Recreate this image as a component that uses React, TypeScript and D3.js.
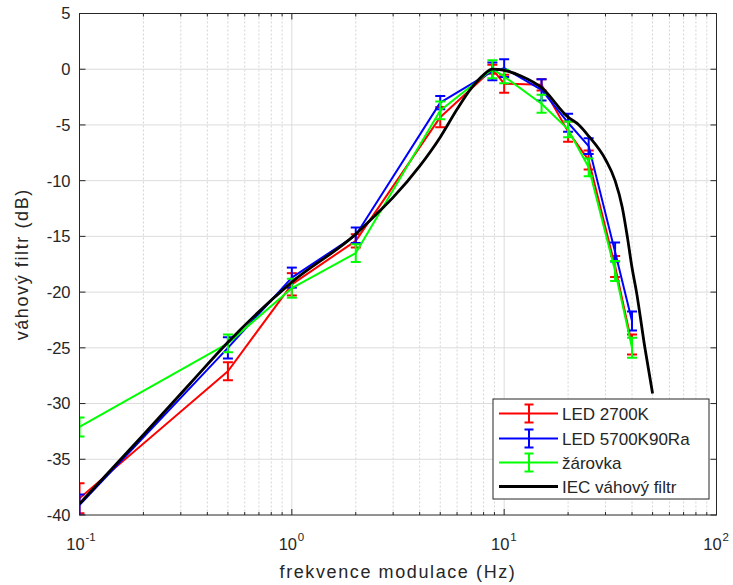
import React from "react";
import * as d3 from "d3";

// ---------- data ----------
const freqs = [0.1, 0.5, 1, 2, 5, 8.8, 10, 15, 20, 25, 33.3, 40];
const led2700 = [-38.5, -27.1, -19.3, -15.4, -4.3, 0, -1.3, -1.4, -5.6, -8.15, -17.7, -24.7];
const led2700Err = [1.35, 0.8, 1.0, 0.6, 0.9, 0.4, 0.8, 0.5, 0.9, 0.85, 0.95, 0.9];
const led5700 = [-39.1, -25.0, -18.7, -14.9, -3.0, -0.2, 0.1, -1.85, -4.8, -6.9, -16.4, -22.6];
const led5700Err = [0.95, 0.95, 0.9, 0.7, 0.6, 0.8, 0.8, 0.95, 0.8, 0.7, 0.85, 0.85];
const zarovka = [-32.1, -24.6, -19.65, -16.5, -3.7, 0, -0.65, -3.1, -5.4, -8.8, -18.1, -25.0];
const zarovkaErr = [0.85, 0.8, 0.85, 0.8, 0.8, 0.8, 0.6, 0.8, 0.7, 0.8, 0.9, 0.9];

const iecFreqs = [0.1, 0.2, 0.332, 0.5, 1, 2, 2.6, 3, 4, 5, 6, 7, 8, 8.8, 10, 12, 15, 20, 22.5, 25, 30, 33.3, 36, 38, 40, 42, 46, 50];
const iecValues = [-39.0, -32.8, -28.2, -24.5, -19.1, -14.8, -12.7, -11.5, -8.7, -6.1, -3.6, -1.7, -0.5, 0, -0.1, -0.6, -1.65, -4.3, -5.0, -6.0, -8.1, -10.0, -12.4, -15.0, -17.8, -20.0, -25.0, -29.1];

const yTicks = [5, 0, -5, -10, -15, -20, -25, -30, -35, -40];
const xDecades = [0.1, 1, 10, 100];
const xDecadeExp = ["-1", "0", "1", "2"];

const seriesNames = ["LED 2700K", "LED 5700K90Ra", "žárovka", "IEC váhový filtr"];
const seriesColors = ["#ff0000", "#0000ff", "#00ff00", "#000000"];

// ---------- layout ----------
const W = 733;
const H = 585;
const L = 79.5, R = 716.5, T = 13.5, B = 515;
const FONT = "'Liberation Sans', Arial, Helvetica, sans-serif";
const TXT = "#262626";

export default function App() {
  const x = d3.scaleLog().domain([0.1, 100]).range([L, R]);
  const y = d3.scaleLinear().domain([-40, 5]).range([B, T]);

  const minor: number[] = [];
  for (const d of [0.1, 1, 10]) for (let k = 2; k <= 9; k++) minor.push(d * k);

  const line = d3.line<[number, number]>().x(d => x(d[0])).y(d => y(d[1]));
  const iecLine = d3
    .line<[number, number]>()
    .x(d => x(d[0]))
    .y(d => y(d[1]))
    .curve(d3.curveMonotoneX);

  const measured = [
    { v: led2700, e: led2700Err, c: seriesColors[0] },
    { v: led5700, e: led5700Err, c: seriesColors[1] },
    { v: zarovka, e: zarovkaErr, c: seriesColors[2] },
  ];

  const cap = 5;
  const legX = 493, legY = 399, legW = 216, legH = 100;
  const legRows = [413.5, 438.5, 462.5, 486.5];

  return (
    <svg width={W} height={H} style={{ display: "block", position: "absolute", left: 0, top: 0, background: "#fff" }}>
      <rect x={0} y={0} width={W} height={H} fill="#fff" />
      <defs>
        <clipPath id="plotclip">
          <rect x={L} y={T} width={R - L} height={B - T} />
        </clipPath>
      </defs>
      {/* grid */}
      {minor.map((m, i) => (
        <line key={"mg" + i} x1={x(m)} x2={x(m)} y1={T} y2={B} stroke="#d4d4d4" strokeWidth={1} strokeDasharray="2,2" />
      ))}
      {xDecades.slice(1, 3).map((d, i) => (
        <line key={"xg" + i} x1={x(d)} x2={x(d)} y1={T} y2={B} stroke="#dcdcdc" strokeWidth={1} />
      ))}
      {yTicks.slice(1, -1).map((t, i) => (
        <line key={"yg" + i} x1={L} x2={R} y1={y(t)} y2={y(t)} stroke="#dcdcdc" strokeWidth={1} />
      ))}

      {/* data */}
      <g clipPath="url(#plotclip)">
        {measured.map((s, si) => (
          <g key={"s" + si}>
            <path
              d={line(freqs.map((f, i) => [f, s.v[i]] as [number, number])) || ""}
              fill="none"
              stroke={s.c}
              strokeWidth={2}
              strokeLinejoin="round"
            />
            {freqs.map((f, i) => {
              const cx = x(f);
              const y1 = y(s.v[i] + s.e[i]);
              const y2 = y(s.v[i] - s.e[i]);
              return (
                <g key={i} stroke={s.c} strokeWidth={2}>
                  <line x1={cx} x2={cx} y1={y1} y2={y2} />
                  <line x1={cx - cap} x2={cx + cap} y1={y1} y2={y1} />
                  <line x1={cx - cap} x2={cx + cap} y1={y2} y2={y2} />
                </g>
              );
            })}
          </g>
        ))}
        <path
          d={iecLine(iecFreqs.map((f, i) => [f, iecValues[i]] as [number, number])) || ""}
          fill="none"
          stroke={seriesColors[3]}
          strokeWidth={2.8}
          strokeLinejoin="round"
        />
      </g>

      {/* axes box */}
      <rect x={L} y={T} width={R - L} height={B - T} fill="none" stroke={TXT} strokeWidth={1} />
      {/* y ticks */}
      {yTicks.map((t, i) => (
        <g key={"yt" + i}>
          <line x1={L} x2={L + 6} y1={y(t)} y2={y(t)} stroke={TXT} />
          <line x1={R} x2={R - 6} y1={y(t)} y2={y(t)} stroke={TXT} />
          <text x={L - 9} y={y(t)} dy="0.36em" textAnchor="end" fontFamily={FONT} fontSize={16.5} fill={TXT}>
            {t < 0 ? "-" + Math.abs(t) : String(t)}
          </text>
        </g>
      ))}
      {/* x ticks */}
      {xDecades.map((d, i) => (
        <g key={"xt" + i}>
          <line x1={x(d)} x2={x(d)} y1={B} y2={B - 6} stroke={TXT} />
          <line x1={x(d)} x2={x(d)} y1={T} y2={T + 6} stroke={TXT} />
          <text x={x(d) - 4} y={550} textAnchor="middle" fontFamily={FONT} fontSize={16.5} fill={TXT}>
            10
          </text>
          <text x={x(d) + 6} y={541} textAnchor="start" fontFamily={FONT} fontSize={11.5} fill={TXT}>
            {xDecadeExp[i]}
          </text>
        </g>
      ))}
      {minor.map((m, i) => (
        <g key={"mt" + i}>
          <line x1={x(m)} x2={x(m)} y1={B} y2={B - 3} stroke={TXT} />
          <line x1={x(m)} x2={x(m)} y1={T} y2={T + 3} stroke={TXT} />
        </g>
      ))}

      {/* axis labels */}
      <text x={(L + R) / 2} y={578} textAnchor="middle" fontFamily={FONT} fontSize={18} fill={TXT} letterSpacing={1.6}>
        frekvence modulace (Hz)
      </text>
      <text
        transform={`translate(28, ${(T + B) / 2}) rotate(-90)`}
        textAnchor="middle"
        fontFamily={FONT}
        fontSize={18}
        fill={TXT}
        letterSpacing={1.6}
      >
        váhový filtr (dB)
      </text>

      {/* legend */}
      <rect x={legX} y={legY} width={legW} height={legH} fill="#fff" stroke={TXT} strokeWidth={1} />
      {seriesNames.map((n, i) => {
        const ry = legRows[i];
        return (
          <g key={"lg" + i}>
            <line x1={499} x2={558} y1={ry} y2={ry} stroke={seriesColors[i]} strokeWidth={i === 3 ? 2.8 : 2} />
            {i < 3 && (
              <g stroke={seriesColors[i]} strokeWidth={2}>
                <line x1={529} x2={529} y1={ry - 9} y2={ry + 9} />
                <line x1={524.5} x2={533.5} y1={ry - 9} y2={ry - 9} />
                <line x1={524.5} x2={533.5} y1={ry + 9} y2={ry + 9} />
              </g>
            )}
            <text x={562} y={ry} dy="0.36em" fontFamily={FONT} fontSize={17} fill={TXT}>
              {n}
            </text>
          </g>
        );
      })}
    </svg>
  );
}
